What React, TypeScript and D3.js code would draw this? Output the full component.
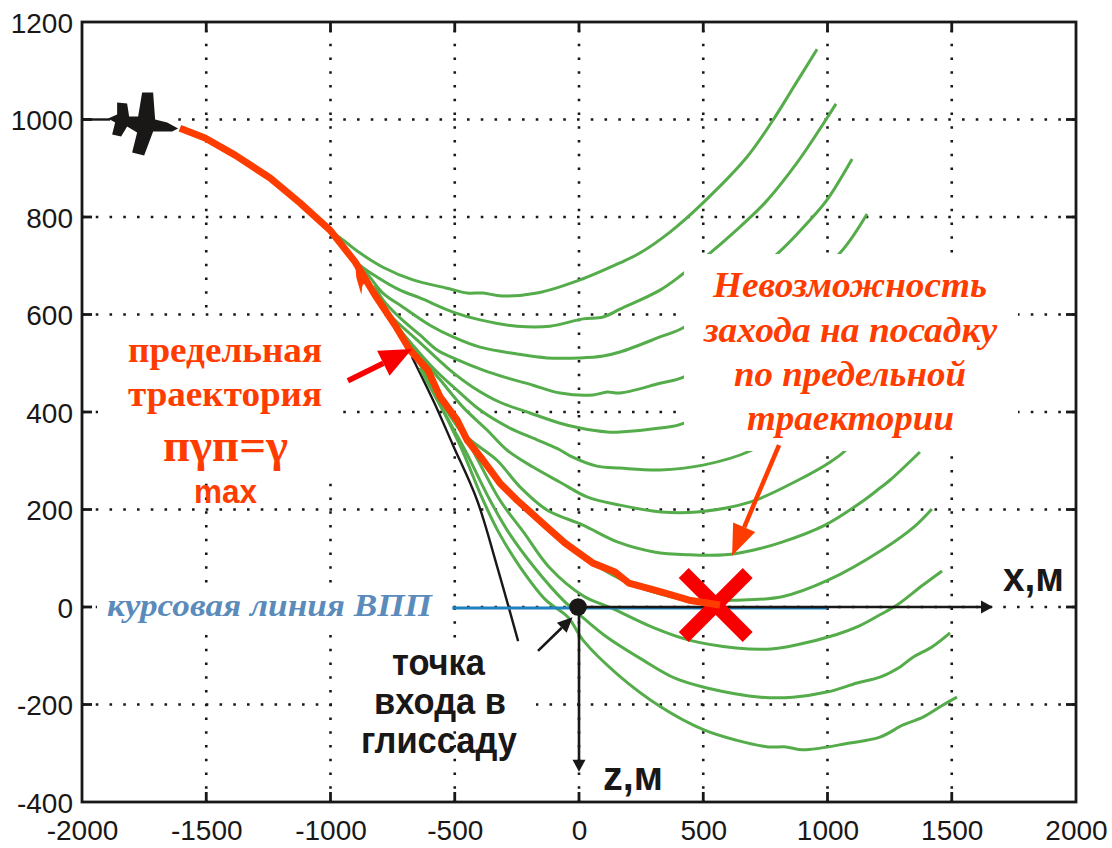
import React, { useEffect, useRef } from 'react';
import * as d3 from 'd3';

type Pt = [number, number];

const xTicks = [-2000, -1500, -1000, -500, 0, 500, 1000, 1500, 2000];
const yTicks = [-400, -200, 0, 200, 400, 600, 800, 1000, 1200];

// green family of trajectories, [x, z]
const green1: Pt[] = [[-1002,773],[-950,753],[-881,726],[-789,697],[-668,671],[-531,654],[-451,644],[-386,644],[-310,638],[-169,644],[4,671],[165,706],[245,726],[366,769],[499,829],[676,923],[781,999],[869,1071],[958,1144]];
const green2: Pt[] = [[-950,745],[-893,706],[-813,677],[-720,650],[-640,634],[-507,605],[-398,589],[-249,576],[-117,576],[16,591],[97,595],[165,611],[326,650],[423,685],[527,726],[620,767],[748,829],[877,911],[998,1003],[1034,1032]];
const green3: Pt[] = [[-901,708],[-849,681],[-789,644],[-708,615],[-600,578],[-507,554],[-398,533],[-249,519],[-129,511],[4,511],[97,515],[165,523],[326,554],[423,574],[608,650],[801,726],[930,794],[998,835],[1099,919]];
const green4: Pt[] = [[-821,660],[-789,630],[-720,593],[-640,558],[-571,527],[-507,511],[-386,486],[-290,470],[-185,455],[-76,439],[56,435],[113,441],[165,439],[326,459],[423,472],[608,537],[889,660],[1050,726],[1159,806]];
const green5: Pt[] = [[-821,640],[-761,599],[-652,548],[-519,486],[-427,451],[-318,420],[-197,398],[-76,377],[4,367],[113,359],[165,359],[326,367],[423,377],[648,455],[849,578],[1030,712]];
const green6: Pt[] = [[-760,593],[-720,568],[-579,486],[-491,445],[-398,404],[-278,367],[-169,343],[-76,322],[-36,310],[72,289],[165,285],[326,281],[499,291],[688,320],[889,384],[1131,548],[1251,650]];
const green7: Pt[] = [[-720,568],[-660,527],[-559,466],[-467,410],[-370,363],[-290,322],[-185,287],[-76,256],[32,226],[165,209],[330,195],[475,195],[688,215],[881,260],[1010,297],[1070,320],[1211,404],[1312,486]];
const green8: Pt[] = [[-559,431],[-519,394],[-451,349],[-330,301],[-237,246],[-129,199],[16,168],[157,133],[302,113],[443,107],[588,107],[704,117],[817,133],[990,168],[1147,219],[1211,244],[1251,260],[1372,318]];
const green9: Pt[] = [[-672,527],[-519,392],[-386,301],[-249,219],[-129,164],[56,90],[201,49],[443,14],[616,14],[817,21],[1002,55],[1219,117],[1352,166],[1420,201]];
const green10: Pt[] = [[-640,490],[-559,435],[-439,332],[-318,219],[-221,152],[-121,82],[16,23],[129,-2],[302,-43],[443,-68],[632,-84],[773,-86],[873,-78],[1034,-57],[1119,-41],[1211,-16],[1280,4],[1384,45],[1461,74]];
const green11: Pt[] = [[-640,490],[-559,414],[-459,322],[-358,219],[-282,152],[-181,82],[-64,14],[28,-27],[113,-62],[258,-109],[386,-146],[515,-166],[732,-185],[861,-185],[1002,-174],[1119,-156],[1211,-144],[1292,-123],[1344,-103],[1420,-82],[1493,-53]];
const green12: Pt[] = [[-640,490],[-600,455],[-479,332],[-386,219],[-322,152],[-237,82],[-133,14],[-44,-21],[16,-68],[157,-139],[330,-205],[503,-252],[632,-273],[761,-287],[833,-287],[901,-293],[1090,-279],[1211,-267],[1304,-242],[1384,-226],[1465,-201],[1521,-185]];
const greenSeries = [green1, green2, green3, green4, green5, green6, green7, green8, green9, green10, green11, green12];

const limitPath: Pt[] = [[-1606,982],[-1505,962],[-1384,927],[-1243,880],[-1123,829],[-1002,773],[-901,708],[-821,640],[-740,578],[-680,527],[-608,486],[-559,431],[-491,384],[-451,343],[-386,301],[-318,254],[-249,219],[-129,164],[-56,131],[56,90],[145,72],[201,49],[330,31],[443,14],[567,4]];
const blackPath: Pt[] = [[-672,513],[-587,424],[-507,332],[-410,219],[-330,84],[-245,-70]];

// aeroplane silhouette, px around its anchor
const planeShape: Pt[] = [[-36,-1],[-27,-5],[-27,-17],[-17,-16],[-15,-3],[-6,-3],[-2,-27],[9,-27],[11,0],[23,3],[34,9],[28,12],[9,12],[0,36],[-12,33],[-7,13],[-17,7],[-23,17],[-32,15],[-29,3]];
const barbShape: Pt[] = [[0,0],[13,13],[7,20],[6,29],[1,12]];

const ORANGE = '#ff3c00';
const RED = '#f90000';
const GREEN = '#55ac4a';
const BLACK = '#1a1717';
const BLUE = '#5b8bbb';
const SERIF = '"Liberation Serif", serif';
const SANS = '"Liberation Sans", sans-serif';

export default function App() {
  const svgRef = useRef<SVGSVGElement>(null);

  useEffect(() => {
    if (!svgRef.current) return;
    const svg = d3.select(svgRef.current);
    svg.selectAll('*').remove();

    const left = 82, right = 1076, top = 22, bottom = 802;
    const x = d3.scaleLinear().domain([-2000, 2000]).range([left, right]);
    const y = d3.scaleLinear().domain([-400, 1200]).range([bottom, top]);

    svg.append('rect').attr('width', 1112).attr('height', 848).attr('fill', '#fff');

    // dotted grid
    const grid = svg.append('g')
      .attr('stroke', BLACK).attr('stroke-width', 2.6).attr('stroke-dasharray', '2.6 11.15');
    grid.selectAll('line.h').data(yTicks.slice(1, -1)).join('line')
      .attr('x1', left).attr('x2', right).attr('y1', d => y(d)).attr('y2', d => y(d));
    grid.selectAll('line.v').data(xTicks.slice(1, -1)).join('line')
      .attr('y1', top).attr('y2', bottom).attr('x1', d => x(d)).attr('x2', d => x(d))
      .attr('stroke-dashoffset', -7.9);

    // white patches that hide the grid behind the captions
    const patch = (x0: number, y0: number, x1: number, y1: number) =>
      svg.append('rect').attr('x', x0).attr('y', y0).attr('width', x1 - x0).attr('height', y1 - y0).attr('fill', '#fff');
    patch(98, 318, 343, 483);
    patch(97, 587, 452, 632);
    patch(332, 642, 536, 728);
    patch(92, 90, 176, 160);

    const line = d3.line<Pt>().x(d => x(d[0])).y(d => y(d[1])).curve(d3.curveCatmullRom.alpha(0.5));

    svg.append('path').attr('d', line(blackPath)).attr('fill', 'none')
      .attr('stroke', BLACK).attr('stroke-width', 2.4);

    svg.append('g').selectAll('path').data(greenSeries).join('path')
      .attr('d', d => line(d))
      .attr('fill', 'none').attr('stroke', GREEN).attr('stroke-width', 3);

    patch(684, 254, 1018, 451);

    // runway line and axes arrows
    const arrow = (a: Pt, b: Pt, color: string, width: number, len: number, half: number) => {
      const ax = x(a[0]), ay = y(a[1]), bx = x(b[0]), by = y(b[1]);
      const d = Math.hypot(bx - ax, by - ay);
      const ux = (bx - ax) / d, uy = (by - ay) / d;
      const mx = bx - ux * len, my = by - uy * len;
      svg.append('line').attr('x1', ax).attr('y1', ay).attr('x2', mx).attr('y2', my)
        .attr('stroke', color).attr('stroke-width', width);
      const head: Pt[] = [[bx, by], [mx - uy * half, my + ux * half], [mx + uy * half, my - ux * half]];
      svg.append('polygon').attr('points', head.map(p => p.join(',')).join(' ')).attr('fill', color);
    };

    svg.append('line').attr('x1', x(-510)).attr('x2', x(1000)).attr('y1', y(-2)).attr('y2', y(-2))
      .attr('stroke', '#1f82bf').attr('stroke-width', 3);
    arrow([0, 0], [1666, 0], BLACK, 2.6, 12, 6.5);
    arrow([0, 0], [0, -338], BLACK, 2.6, 12, 6.5);
    svg.append('circle').attr('cx', x(-4)).attr('cy', y(0)).attr('r', 8.8).attr('fill', BLACK);
    arrow([-165, -90], [-26, -21], BLACK, 2.6, 15, 7);

    // red cross at the end of the limit trajectory
    const cross = svg.append('g').attr('stroke', RED).attr('stroke-width', 14);
    cross.append('line').attr('x1', x(550) - 32).attr('y1', y(4) - 32).attr('x2', x(550) + 32).attr('y2', y(4) + 32);
    cross.append('line').attr('x1', x(550) + 32).attr('y1', y(4) - 32).attr('x2', x(550) - 32).attr('y2', y(4) + 32);

    svg.append('path').attr('d', d3.line<Pt>().x(d => x(d[0])).y(d => y(d[1]))(limitPath)).attr('fill', 'none')
      .attr('stroke', ORANGE).attr('stroke-width', 7).attr('stroke-linejoin', 'round');

    const shape = (pts: Pt[], at: Pt, fill: string) =>
      svg.append('polygon').attr('points', pts.map(p => p.join(',')).join(' '))
        .attr('transform', `translate(${x(at[0])},${y(at[1])})`).attr('fill', fill);
    shape(barbShape, [-900, 700], ORANGE);
    svg.append('line').attr('x1', x(-2000)).attr('x2', x(-1750) - 34).attr('y1', y(1000)).attr('y2', y(1000))
      .attr('stroke', BLACK).attr('stroke-width', 2.4);
    shape(planeShape, [-1750, 1000], BLACK);

    arrow([-930, 464], [-672, 529], RED, 5.5, 32, 14);
    arrow([805, 332], [616, 105], ORANGE, 4.5, 31, 12);

    // frame and inward ticks
    const frame = svg.append('g').attr('stroke', BLACK).attr('stroke-width', 2.8).attr('fill', 'none');
    frame.append('rect').attr('x', left).attr('y', top).attr('width', right - left).attr('height', bottom - top);
    const tickLen = 10;
    xTicks.slice(1, -1).forEach(t => {
      frame.append('line').attr('x1', x(t)).attr('x2', x(t)).attr('y1', bottom).attr('y2', bottom - tickLen);
      frame.append('line').attr('x1', x(t)).attr('x2', x(t)).attr('y1', top).attr('y2', top + tickLen);
    });
    yTicks.slice(1, -1).forEach(t => {
      frame.append('line').attr('y1', y(t)).attr('y2', y(t)).attr('x1', left).attr('x2', left + tickLen);
      frame.append('line').attr('y1', y(t)).attr('y2', y(t)).attr('x1', right).attr('x2', right - tickLen);
    });

    // tick labels through d3 axes
    const xAxis = svg.append('g').attr('transform', `translate(0,${bottom})`)
      .call(d3.axisBottom(x).tickValues(xTicks).tickSize(0).tickPadding(18).tickFormat(d => String(d)));
    const yAxis = svg.append('g').attr('transform', `translate(${left},0)`)
      .call(d3.axisLeft(y).tickValues(yTicks).tickSize(0).tickPadding(9).tickFormat(d => String(d)));
    [xAxis, yAxis].forEach(a => {
      a.select('.domain').remove();
      a.selectAll('text').attr('font-family', SANS).attr('font-size', 28).attr('fill', BLACK);
    });
    xAxis.selectAll('text').attr('dy', '0.71em');
    yAxis.selectAll('text').attr('dy', '0.36em');

    // captions
    const caption = (text: string, x0: number, x1: number, base: number, size: number, fill: string, family: string, italic = false) =>
      svg.append('text').text(text).attr('x', x0).attr('y', base)
        .attr('textLength', x1 - x0).attr('lengthAdjust', 'spacingAndGlyphs')
        .attr('font-family', family).attr('font-size', size).attr('font-weight', 'bold')
        .attr('font-style', italic ? 'italic' : 'normal').attr('fill', fill);

    caption('предельная', 128, 322, 362, 36, ORANGE, SERIF);
    caption('траектория', 128, 322, 406, 36, ORANGE, SERIF);
    caption('пγп=γ', 163, 288, 461, 46, ORANGE, SERIF);
    caption('max', 194, 257, 503, 34, ORANGE, SANS);
    caption('курсовая линия ВПП', 107, 432, 616, 31, BLUE, SERIF, true);
    caption('Невозможность', 713, 987, 297, 36, ORANGE, SERIF, true);
    caption('захода на посадку', 704, 997, 342, 36, ORANGE, SERIF, true);
    caption('по предельной', 734, 966, 386, 36, ORANGE, SERIF, true);
    caption('траектории', 747, 954, 430, 36, ORANGE, SERIF, true);
    caption('точка', 392, 485, 675, 36, BLACK, SANS);
    caption('входа в', 374, 506, 714, 36, BLACK, SANS);
    caption('глиссаду', 361, 517, 753, 36, BLACK, SANS);
    caption('x,м', 1003, 1064, 591, 40, BLACK, SANS);
    caption('z,м', 603, 663, 790, 40, BLACK, SANS);
  }, []);

  return <svg ref={svgRef} width={1112} height={848} style={{ position: 'absolute', left: 0, top: 0, display: 'block' }} />;
}
